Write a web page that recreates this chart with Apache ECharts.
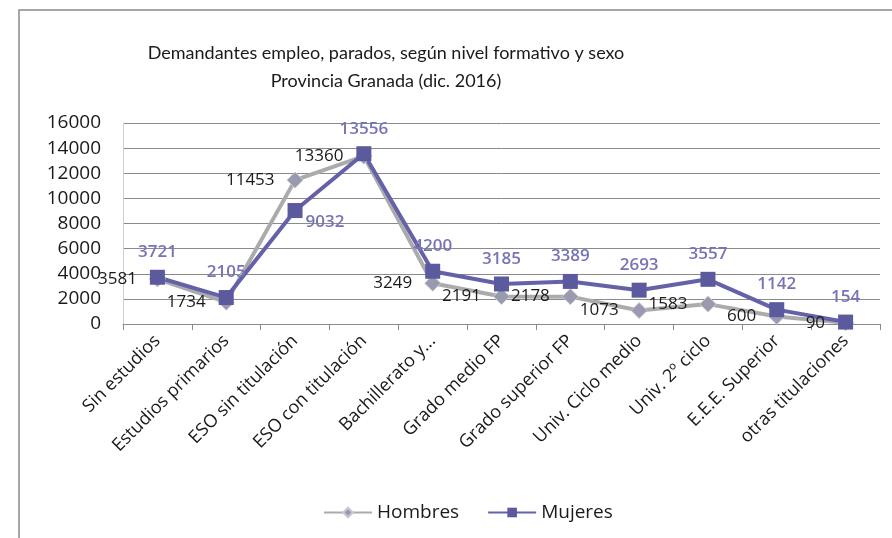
<!DOCTYPE html>
<html>
<head>
<meta charset="utf-8">
<script src="https://cdn.jsdelivr.net/npm/echarts@6/dist/echarts.min.js"></script>
<style>
  html, body { margin: 0; padding: 0; background: #fff; }
  #chart { width: 892px; height: 538px; }
</style>
</head>
<body>
<div id="chart"></div>
<script>
var categories = ['Sin estudios', 'Estudios primarios', 'ESO sin titulación', 'ESO con titulación',
  'Bachillerato y...', 'Grado medio FP', 'Grado superior FP', 'Univ. Ciclo medio',
  'Univ. 2º ciclo', 'E.E.E. Superior', 'otras titulaciones'];
var hombres = [3581, 1734, 11453, 13360, 3249, 2191, 2178, 1073, 1583, 600, 90];
var mujeres = [3721, 2105, 9032, 13556, 4200, 3185, 3389, 2693, 3557, 1142, 154];
var yTicks = [0, 2000, 4000, 6000, 8000, 10000, 12000, 14000, 16000];

var font = 'Open Sans';

// the 9032 label sits below-right of its marker in the original
var mujeresData = mujeres.map(function (v, i) {
  if (i == 2) {
    return { value: v, label: { position: 'right', offset: [-6, 12] } };
  }
  return v;
});

var myChart = echarts.init(document.getElementById('chart'));
var option = {
  animation: false,
  backgroundColor: '#fff',
  textStyle: { fontFamily: font },
  graphic: [{
    type: 'rect',
    shape: { x: 19, y: 10, width: 900, height: 560 },
    style: { fill: 'none', stroke: '#8a8a8a', lineWidth: 1.5 }
  }],
  title: {
    text: 'Demandantes empleo, parados, según nivel formativo y sexo\nProvincia Granada (dic. 2016)',
    left: 381, top: 34,
    textAlign: 'center',
    textStyle: { fontFamily: 'Lato', fontSize: 18, lineHeight: 28, fontWeight: 'normal', color: '#1a1a1a' }
  },
  legend: {
    left: 318, top: 498,
    itemWidth: 48, itemHeight: 12, itemGap: 28,
    textStyle: { fontFamily: font, fontSize: 19, color: '#1a1a1a' },
    data: ['Hombres', 'Mujeres']
  },
  grid: { left: 123, right: 12, top: 123, bottom: 214 },
  xAxis: {
    type: 'category',
    data: categories,
    boundaryGap: true,
    axisLine: { lineStyle: { color: '#8a8a8a', width: 1 } },
    axisTick: { show: true, length: 6, lineStyle: { color: '#8a8a8a' } },
    axisLabel: { rotate: 45, margin: 14, fontFamily: font, fontSize: 18, color: '#1a1a1a', interval: 0 }
  },
  yAxis: {
    type: 'value',
    min: yTicks[0], max: yTicks[yTicks.length - 1], interval: 2000,
    axisLine: { show: true, lineStyle: { color: '#d0d0d0' } },
    axisTick: { show: false },
    splitLine: { lineStyle: { color: '#8a8a8a', width: 1 } },
    axisLabel: {
      margin: 22, fontFamily: font, fontSize: 19, color: '#1a1a1a',
      formatter: function (v) { return String(v); }
    }
  },
  series: [{
    name: 'Hombres',
    type: 'line',
    data: hombres,
    symbol: 'diamond',
    symbolSize: 16,
    lineStyle: { color: '#ababab', width: 4 },
    itemStyle: { color: '#9a9aae', borderColor: '#c8c8d4', borderWidth: 1 },
    label: { show: true, position: 'left', distance: 12, fontFamily: font, fontSize: 17, color: '#1a1a1a' }
  }, {
    name: 'Mujeres',
    type: 'line',
    data: mujeresData,
    symbol: 'rect',
    symbolSize: 15,
    lineStyle: { color: '#6461a8', width: 4 },
    itemStyle: { color: '#5c5a9e' },
    label: { show: true, position: 'top', distance: 9, fontFamily: font, fontSize: 17, fontWeight: 600, color: '#7774b6' }
  }]
};
myChart.setOption(option);
</script>
</body>
</html>
